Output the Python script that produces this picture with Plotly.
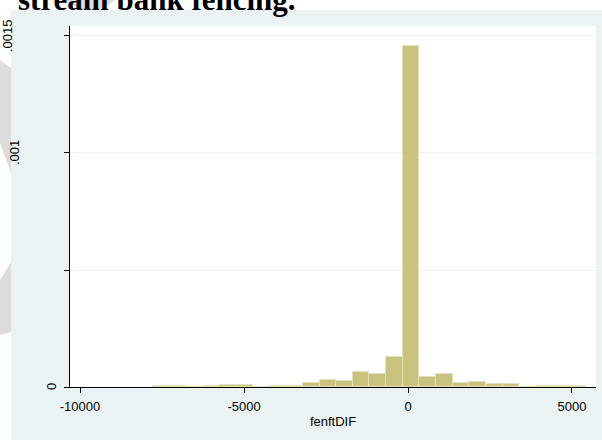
import plotly.graph_objects as go

# ---- data ----
title_text = "stream bank fencing."
x_title = "fenftDIF"
bin_start = -7774.0
bin_width = 507.7
density = [6e-6, 6e-6, 0, 4e-6, 1.0e-5, 1.0e-5, 0, 4e-6, 4e-6, 1.7e-5,
           3.0e-5, 2.6e-5, 6.4e-5, 5.6e-5, 1.28e-4, 1.457e-3, 4.3e-5, 5.6e-5,
           1.7e-5, 2.1e-5, 1.3e-5, 1.1e-5, 0, 6e-6, 4e-6, 4e-6]
x_ticks = [-10000, -5000, 0, 5000]
x_tick_labels = ["-10000", "-5000", "0", "5000"]
y_ticks = [0, 0.0005, 0.001, 0.0015]
y_tick_labels = ["0", "", ".001", ".0015"]

# ---- layout geometry (pixels) ----
W, H = 602, 440
L, R, T, B = 70, 6, 26, 53
PW, PH = W - L - R, H - T - B
y_label_px = [51, None, 15, 8]


def px(xp):
    return (xp - L) / PW


def py(yp):
    return (H - B - yp) / PH


centers = [bin_start + bin_width * (i + 0.5) for i in range(len(density))]

fig = go.Figure()
fig.add_trace(go.Bar(
    x=centers, y=density, width=bin_width,
    marker=dict(color="#c9c37f", line=dict(color="#e4e0b6", width=1)),
    hoverinfo="skip", showlegend=False,
))

shapes = []
gray = "#dcdcdc"
# light gray watermark pieces on the page
for pts in ([(0, 60), (11, 68), (11, 173), (0, 143)],
            [(0, 280), (11, 262), (11, 332), (0, 335)]):
    path = "M " + " L ".join(f"{px(a):.5f},{py(b):.5f}" for a, b in pts) + " Z"
    shapes.append(dict(type="path", path=path, xref="paper", yref="paper",
                       fillcolor=gray, line=dict(width=0), layer="below"))
shapes.append(dict(type="circle", xref="paper", yref="paper",
                   x0=px(55), x1=px(125), y0=py(10), y1=py(-60),
                   fillcolor=gray, line=dict(width=0), layer="below"))
# graph region (bluish gray) and plot region (white)
shapes.append(dict(type="rect", xref="paper", yref="paper",
                   x0=px(11), x1=px(602), y0=py(440), y1=py(10),
                   fillcolor="#eaf2f3", line=dict(width=0), layer="below"))
shapes.append(dict(type="rect", xref="paper", yref="paper",
                   x0=px(70), x1=px(596), y0=py(387), y1=py(26),
                   fillcolor="#ffffff", line=dict(width=0), layer="below"))

annotations = [dict(text=f"<b>{title_text}</b>", xref="paper", yref="paper",
                    x=px(16), y=py(19), xanchor="left", yanchor="bottom",
                    showarrow=False,
                    font=dict(family="Liberation Serif", size=31, color="#000000"))]
for v, lab, xp in zip(y_ticks, y_tick_labels, y_label_px):
    if lab and xp is not None:
        annotations.append(dict(text=lab, xref="paper", yref="y", x=px(xp), y=v,
                                xanchor="center", yanchor="middle", textangle=-90,
                                showarrow=False,
                                font=dict(family="Liberation Sans", size=13, color="#000000")))

fig.update_layout(
    width=W, height=H, autosize=False,
    margin=dict(l=L, r=R, t=T, b=B, pad=0, autoexpand=False),
    paper_bgcolor="#ffffff", plot_bgcolor="rgba(0,0,0,0)",
    bargap=0, shapes=shapes, annotations=annotations,
    font=dict(family="Liberation Sans", size=13, color="#000000"),
    xaxis=dict(range=[-10305, 5732], tickvals=x_ticks, ticktext=x_tick_labels,
               automargin=False, ticklabelstandoff=2,
               ticks="outside", ticklen=5, tickcolor="#000000", tickwidth=1,
               showline=True, linecolor="#000000", linewidth=1,
               showgrid=False, zeroline=False,
               tickfont=dict(size=13, color="#000000"),
               title=dict(text=x_title, standoff=4,
                          font=dict(size=13, color="#000000"))),
    yaxis=dict(range=[0, 0.0015427], tickvals=y_ticks, ticktext=y_tick_labels,
               automargin=False,
               showticklabels=False, ticks="outside", ticklen=5,
               tickcolor="#000000", tickwidth=1,
               showline=True, linecolor="#000000", linewidth=1,
               showgrid=True, gridcolor="#eaf2f3", gridwidth=1, zeroline=False),
)

fig.write_html("out.html", config={"displayModeBar": False},
               post_script="document.body.style.margin='0';")
